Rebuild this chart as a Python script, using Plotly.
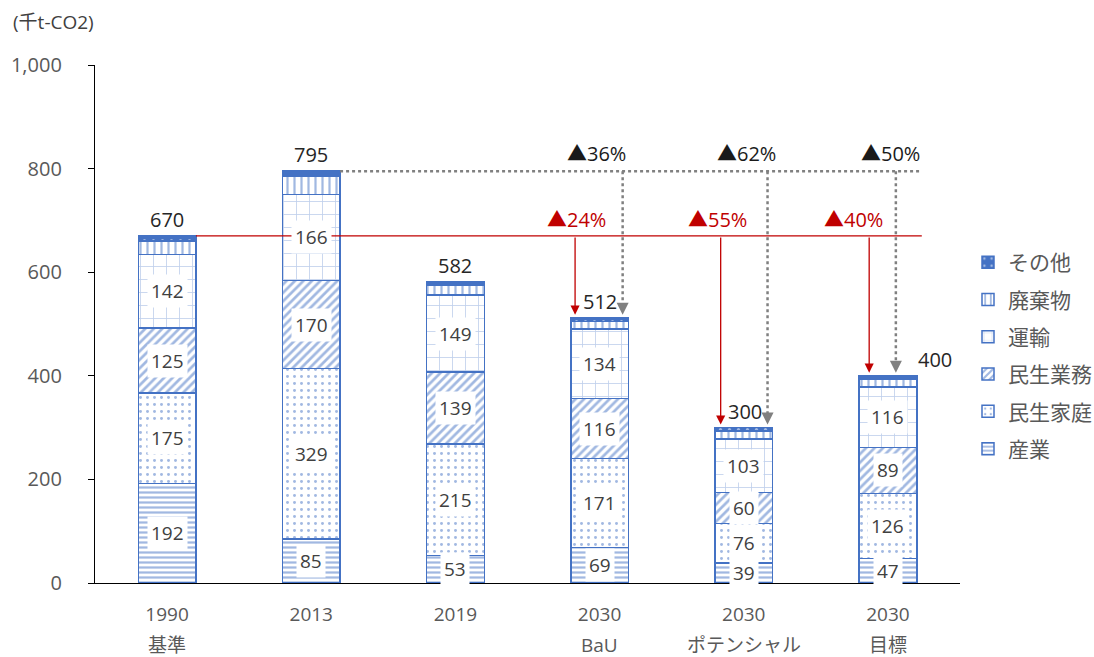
import plotly.graph_objects as go

# Emissions by sector (thousand t-CO2)
years = ["1990", "2013", "2019", "2030", "2030", "2030"]
cases = ["基準", "", "", "BaU", "ポテンシャル", "目標"]
industry = [192, 85, 53, 69, 39, 47]
household = [175, 329, 215, 171, 76, 126]
commercial = [125, 170, 139, 116, 60, 89]
transport = [142, 166, 149, 134, 103, 116]
waste = [26, 36, 19, 15, 15, 15]
other = [10, 9, 7, 7, 7, 7]
y_ticks = [0, 200, 400, 600, 800, 1000]

BLUE = "#4472C4"
TEXT = "#404040"
AXIS_TEXT = "#595959"
RED = "#C00000"
GRAY = "#808080"
FONT = "Open Sans, Noto Sans CJK JP"

# plot area in pixels
L, R, T, B = 95, 134, 65, 74
W, H = 1094, 657
PW, PH = W - L - R, H - T - B

x = list(range(len(years)))
totals = [sum(v) for v in zip(industry, household, commercial, transport, waste, other)]
base_year = 0      # 1990
peak_year = 1      # 2013
targets = [3, 4, 5]

series = [
    ("産業", industry, dict(shape="-", size=5, solidity=0.45, fgcolor=BLUE, bgcolor="white")),
    ("民生家庭", household, dict(shape=".", size=7, solidity=0.14, fgcolor=BLUE, bgcolor="white")),
    ("民生業務", commercial, dict(shape="/", size=6, solidity=0.45, fgcolor=BLUE, bgcolor="white")),
    ("運輸", transport, dict(shape="+", size=13, solidity=0.12, fgcolor="#7F9FD8", bgcolor="white")),
    ("廃棄物", waste, dict(shape="|", size=7, solidity=0.32, fgcolor=BLUE, bgcolor="white")),
    ("その他", other, dict(shape=".", size=9, solidity=0.1, fgcolor="white", bgcolor=BLUE)),
]

fig = go.Figure()
for i, (name, vals, pat) in enumerate(series):
    fig.add_trace(go.Bar(
        x=x, y=vals, name=name, width=0.4, legendgroup=name,
        legendrank=1000 - i,  # top of the stack listed first
        marker=dict(color="white", line=dict(color=BLUE, width=1.5),
                    pattern=dict(fillmode="overlay", **pat)),
        hoverinfo="skip",
    ))

annotations = []

# Segment value labels (lower four sectors)
for c in x:
    base = 0
    for name, vals, _ in series[:4]:
        v = vals[c]
        annotations.append(dict(
            x=c, y=base + v / 2, xref="x", yref="y", text=str(v), showarrow=False,
            font=dict(family=FONT, size=19, color=TEXT), bgcolor="white", borderpad=3,
        ))
        base += v

# Totals above bars
total_dx = [0, 0, 0, 0, 0.01, 0.33]
for c in x:
    annotations.append(dict(
        x=c + total_dx[c], y=totals[c], xref="x", yref="y", text=f"{totals[c]:,}",
        showarrow=False, yanchor="bottom", yshift=1,
        font=dict(family=FONT, size=20, color="#262626"),
    ))

shapes = []
line_end = 5.235
# 1990 reference line
shapes.append(dict(type="line", xref="x", yref="y", x0=base_year + 0.2, x1=line_end,
                   y0=totals[base_year], y1=totals[base_year], line=dict(color=RED, width=1.3)))
# 2013 reference line
shapes.append(dict(type="line", xref="x", yref="y", x0=peak_year + 0.2, x1=line_end,
                   y0=totals[peak_year], y1=totals[peak_year],
                   line=dict(color=GRAY, width=2.5, dash="dot")))

red_dx = {3: -0.17, 4: -0.16, 5: -0.13}
gray_dx = {3: 0.16, 4: 0.165, 5: 0.055}
red_lbl_dx = {3: -0.16, 4: -0.18, 5: -0.24}
gray_lbl_dx = {3: -0.02, 4: 0.02, 5: 0.02}

for c in targets:
    # red arrow: from 1990 level down to the bar top
    annotations.append(dict(
        x=c + red_dx[c], y=totals[c] + 6, xref="x", yref="y",
        ax=c + red_dx[c], ay=totals[base_year], axref="x", ayref="y",
        text="", showarrow=True, arrowhead=2, arrowsize=1.4, arrowwidth=1.3, arrowcolor=RED,
    ))
    # gray dotted arrow: from 2013 level down to the bar top
    gx = c + gray_dx[c]
    shapes.append(dict(type="line", xref="x", yref="y", x0=gx, x1=gx,
                       y0=totals[peak_year], y1=totals[c] + 22,
                       line=dict(color=GRAY, width=2.5, dash="dot")))
    annotations.append(dict(
        x=gx, y=totals[c] + 6, xref="x", yref="y", ax=0, ay=-10,
        text="", showarrow=True, arrowhead=2, arrowsize=1.2, arrowwidth=2, arrowcolor=GRAY,
    ))
    red_pct = round((1 - totals[c] / totals[base_year]) * 100)
    gray_pct = round((1 - totals[c] / totals[peak_year]) * 100)
    annotations.append(dict(
        x=c + red_lbl_dx[c], y=702, xref="x", yref="y", text=f"▲{red_pct}%", showarrow=False,
        font=dict(family=FONT, size=20, color=RED),
    ))
    annotations.append(dict(
        x=c + gray_lbl_dx[c], y=830, xref="x", yref="y", text=f"▲{gray_pct}%", showarrow=False,
        font=dict(family=FONT, size=20, color="#1a1a1a"),
    ))

# Second line of the category labels
for c in x:
    if cases[c]:
        annotations.append(dict(
            x=c, y=-(645 - (H - B)) / PH, xref="x", yref="paper", text=cases[c],
            showarrow=False, yanchor="middle",
            font=dict(family=FONT, size=19, color=AXIS_TEXT),
        ))

# Unit label
annotations.append(dict(
    x=-(L - 11) / PW, y=1 + (T - 22) / PH, xref="paper", yref="paper", text="(千t-CO2)",
    showarrow=False, xanchor="left", yanchor="middle",
    font=dict(family=FONT, size=19, color=TEXT),
))

fig.update_layout(
    width=W, height=H, autosize=False,
    barmode="stack",
    plot_bgcolor="white", paper_bgcolor="white",
    margin=dict(l=L, r=R, t=T, b=B, autoexpand=False),
    font=dict(family=FONT, color=TEXT),
    showlegend=True,
    legend=dict(
        xref="container", yref="container",
        x=968 / W, xanchor="left", y=1 - 242 / H, yanchor="top",
        traceorder="grouped", tracegroupgap=7,
        font=dict(family=FONT, size=21, color=AXIS_TEXT),
        itemwidth=30,
    ),
    xaxis=dict(
        tickmode="array", tickvals=x, ticktext=years, range=[-0.5, 5.5],
        showline=True, linecolor="black", linewidth=1.3, showgrid=False, zeroline=False,
        ticks="", tickfont=dict(family=FONT, size=19, color=AXIS_TEXT),
        ticklabelstandoff=14,
    ),
    yaxis=dict(
        range=[0, 1000], tickvals=y_ticks, tickformat=",",
        showline=True, linecolor="black", linewidth=1.3, showgrid=False, zeroline=False,
        ticks="outside", ticklen=6, tickcolor="black",
        tickfont=dict(family=FONT, size=20, color=AXIS_TEXT),
        ticklabelstandoff=22,
    ),
    annotations=annotations,
    shapes=shapes,
)

fig.write_html("out.html")
